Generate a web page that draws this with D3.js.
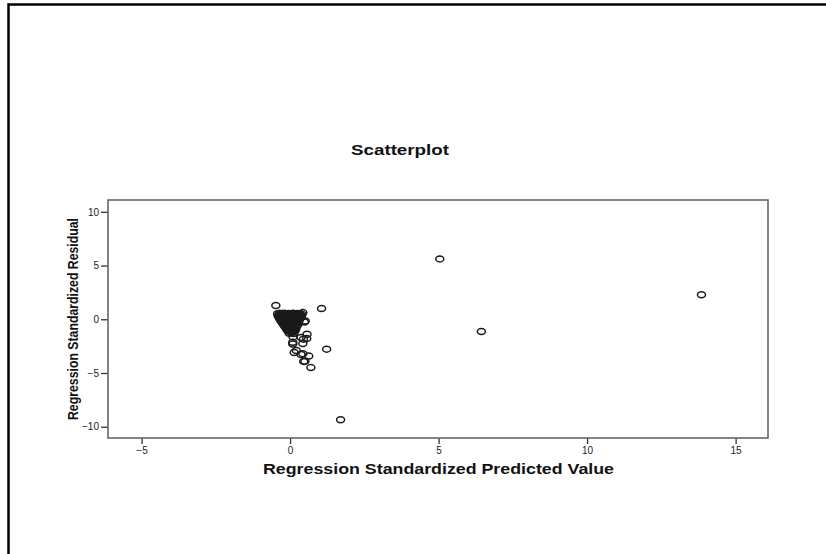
<!DOCTYPE html>
<html>
<head>
<meta charset="utf-8">
<script src="https://cdn.jsdelivr.net/npm/d3@7/dist/d3.min.js"></script>
<style>
  html, body { margin: 0; padding: 0; background: #fff; }
  svg { display: block; }
  text { font-family: "Liberation Sans", Arial, sans-serif; }
</style>
</head>
<body>
<svg id="chart" width="826" height="554"></svg>
<script>
// ---- Data ----
const chartTitle = "Scatterplot";
const xTitle = "Regression Standardized Predicted Value";
const yTitle = "Regression Standardized Residual";
const xTicks = [-5, 0, 5, 10, 15];
const yTicks = [-10, -5, 0, 5, 10];

// dense cluster near the origin
const clusterPredicted = [
  -0.42,-0.35,-0.28,-0.20,-0.12,-0.05,0.03,0.10,0.18,0.25,0.32,0.40,
  -0.40,-0.32,-0.24,-0.16,-0.08,0.00,0.08,0.16,0.24,0.32,0.38,
  -0.36,-0.28,-0.20,-0.12,-0.04,0.04,0.12,0.20,0.28,0.34,
  -0.32,-0.24,-0.16,-0.08,0.00,0.08,0.16,0.24,0.31,
  -0.27,-0.19,-0.11,-0.03,0.05,0.13,0.21,0.28,
  -0.22,-0.14,-0.06,0.02,0.10,0.18,0.25,
  -0.17,-0.09,-0.01,0.07,0.15,0.22,
  -0.12,-0.04,0.04,0.12,0.19,
  -0.07,0.01,0.09,0.16,
  -0.03,0.05,0.12,
  -0.37,-0.26,-0.15,-0.02,0.07,0.15,0.28,0.35,
  -0.28,-0.17,-0.06,0.05,0.17,0.27,
  -0.18,-0.07,0.03,0.13,0.22,
  -0.09,0.02,0.11,0.17
];
const clusterResidual = [
  0.52,0.55,0.50,0.56,0.48,0.53,0.50,0.55,0.49,0.54,0.51,0.46,
  0.30,0.32,0.28,0.31,0.27,0.33,0.29,0.30,0.26,0.32,0.28,
  0.10,0.12,0.08,0.11,0.09,0.13,0.07,0.10,0.12,0.08,
  -0.10,-0.08,-0.12,-0.09,-0.11,-0.07,-0.13,-0.10,-0.08,
  -0.30,-0.28,-0.32,-0.29,-0.31,-0.27,-0.33,-0.30,
  -0.50,-0.48,-0.52,-0.49,-0.51,-0.47,-0.53,
  -0.70,-0.68,-0.72,-0.69,-0.71,-0.67,
  -0.90,-0.88,-0.92,-0.89,-0.91,
  -1.10,-1.08,-1.12,-1.09,
  -1.30,-1.28,-1.32,
  0.40,0.42,0.38,0.41,0.39,0.43,0.37,0.40,
  -0.20,-0.18,-0.22,-0.19,-0.21,-0.18,
  -0.60,-0.62,-0.58,-0.61,-0.59,
  -1.00,-1.02,-0.98,-1.01
];

// scattered points outside the cluster
const outlierPredicted = [-0.48, 1.06, 0.43, 0.48, 0.51, 0.57, 0.37, 0.56, 0.43, 0.45, 0.10, 0.09, 0.09,
  1.23, 0.21, 0.14, 0.37, 0.43, 0.63, 0.46, 0.50, 0.70, 1.70, 5.04, 13.85, 6.44];
const outlierResidual = [1.28, 1.00, 0.62, -0.25, -0.15, -1.39, -1.70, -1.79, -2.25, -1.85, -1.64, -2.13, -2.30,
  -2.78, -2.90, -3.10, -3.27, -3.20, -3.43, -3.92, -3.90, -4.50, -9.35, 5.62, 2.29, -1.14];

// ---- Drawing ----
const svg = d3.select("#chart");
const W = 826, H = 554;
const plot = { left: 108, right: 768, top: 200, bottom: 438 };

svg.append("rect").attr("width", W).attr("height", H).attr("fill", "#fff");

// outer frame (top and left edges)
svg.append("path")
  .attr("d", `M8.5,${H} V4.5 H${W}`)
  .attr("fill", "none").attr("stroke", "#000").attr("stroke-width", 2.5);

const x = d3.scaleLinear().domain([-6.13, 16.09]).range([plot.left, plot.right]);
const y = d3.scaleLinear().domain([-11.05, 11.1]).range([plot.bottom, plot.top]);

// axes
const xAxis = d3.axisBottom(x).tickValues(xTicks).tickSize(6).tickPadding(3).tickFormat(d3.format("d"));
const yAxis = d3.axisLeft(y).tickValues(yTicks).tickSize(7).tickPadding(2).tickFormat(d3.format("d"));

const gx = svg.append("g").attr("transform", `translate(0,${plot.bottom})`).call(xAxis);
const gy = svg.append("g").attr("transform", `translate(${plot.left},0)`).call(yAxis);
[gx, gy].forEach(g => {
  g.select(".domain").remove();
  g.selectAll(".tick line").attr("stroke", "#333").attr("stroke-width", 1.3);
  g.selectAll(".tick text").attr("fill", "#222").style("font-size", "10px")
    .style("font-family", "'Liberation Sans', Arial, sans-serif");
});

// plot frame
svg.append("rect")
  .attr("x", plot.left).attr("y", plot.top)
  .attr("width", plot.right - plot.left).attr("height", plot.bottom - plot.top)
  .attr("fill", "none").attr("stroke", "#666").attr("stroke-width", 1.6);

// points
const pts = clusterPredicted.map((p, i) => ({ p, r: clusterResidual[i] }))
  .concat(outlierPredicted.map((p, i) => ({ p, r: outlierResidual[i] })));

svg.append("g").selectAll("ellipse").data(pts).enter().append("ellipse")
  .attr("cx", d => x(d.p)).attr("cy", d => y(d.r))
  .attr("rx", 4).attr("ry", 3)
  .attr("fill", "none").attr("stroke", "#1a1a1a").attr("stroke-width", 1.5);

// titles
svg.append("text")
  .attr("x", 400).attr("y", 155).attr("text-anchor", "middle")
  .attr("textLength", 98).attr("lengthAdjust", "spacingAndGlyphs")
  .style("font-size", "15px").style("font-weight", "bold").attr("fill", "#111")
  .text(chartTitle);

svg.append("text")
  .attr("x", 438.5).attr("y", 474).attr("text-anchor", "middle")
  .attr("textLength", 351).attr("lengthAdjust", "spacingAndGlyphs")
  .style("font-size", "14px").style("font-weight", "bold").attr("fill", "#111")
  .text(xTitle);

svg.append("text")
  .attr("transform", "translate(78,319) rotate(-90)").attr("text-anchor", "middle")
  .attr("textLength", 202).attr("lengthAdjust", "spacingAndGlyphs")
  .style("font-size", "14px").style("font-weight", "bold").attr("fill", "#111")
  .text(yTitle);
</script>
</body>
</html>
